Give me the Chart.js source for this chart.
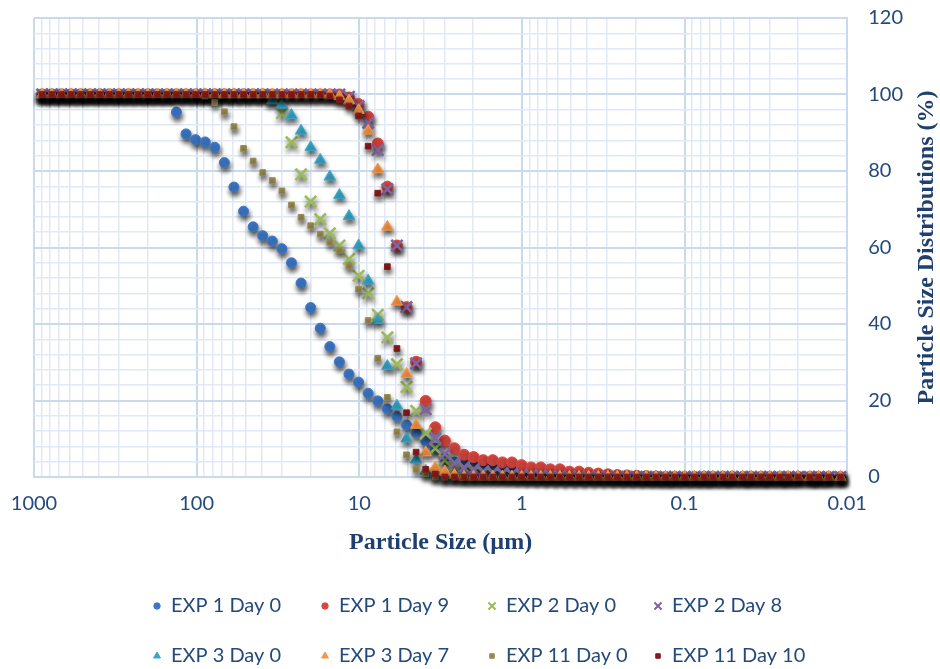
<!DOCTYPE html>
<html>
<head>
<meta charset="utf-8">
<title>Particle Size Distributions</title>
<script src="https://cdn.jsdelivr.net/npm/chart.js@4.4.1/dist/chart.umd.min.js"></script>
<style>
  html, body { margin: 0; padding: 0; background: #fff; overflow: hidden; }
  canvas { display: block; }
</style>
</head>
<body>
<canvas id="psd" width="940" height="669"></canvas>
<script>
// size classes (µm), largest first
const sizes = [
  890.12, 777.14, 678.50, 592.39, 517.20, 451.56, 394.25, 344.21, 300.52, 262.37,
  229.07, 200.00, 174.61, 152.45, 133.10, 116.21, 101.46, 88.583, 77.339, 67.523,
  58.953, 51.471, 44.938, 39.234, 34.255, 29.907, 26.111, 22.797, 19.904, 17.377,
  15.172, 13.246, 11.565, 10.097, 8.816, 7.697, 6.720, 5.867, 5.122, 4.472,
  3.905, 3.409, 2.976, 2.599, 2.269, 1.981, 1.729, 1.510, 1.318, 1.151,
  1.005, 0.877, 0.766, 0.669, 0.584, 0.510, 0.445, 0.389, 0.339, 0.296,
  0.259, 0.226, 0.197, 0.172, 0.150, 0.131, 0.115, 0.100, 0.087, 0.076,
  0.067, 0.058, 0.051, 0.044, 0.039, 0.034, 0.030, 0.026, 0.023, 0.020,
  0.017, 0.015, 0.013, 0.011
];

// cumulative % undersize, one value per size class
const exp1Day0 = [
  100, 100, 100, 100, 100, 100, 100, 100, 100, 100,
  100, 100, 100, 100, 95.4, 89.7, 88.2, 87.6, 86.2, 82.2,
  75.8, 69.5, 65.4, 63.1, 61.7, 59.7, 56.0, 50.7, 44.3, 38.9,
  34.1, 30.1, 26.9, 24.8, 21.9, 19.9, 17.8, 15.8, 13.6, 11.6,
  9.4, 7.5, 4.9, 3.9, 3.3, 3.0, 2.7, 2.5, 2.3, 2.1,
  2.0, 1.8, 1.7, 1.5, 1.4, 1.2, 1.0, 0.8, 0.6, 0.5,
  0.4, 0.3, 0.2, 0.1, 0, 0, 0, 0, 0, 0,
  0, 0, 0, 0, 0, 0, 0, 0, 0, 0,
  0, 0, 0, 0
];
const exp1Day9 = [
  100, 100, 100, 100, 100, 100, 100, 100, 100, 100,
  100, 100, 100, 100, 100, 100, 100, 100, 100, 100,
  100, 100, 100, 100, 100, 100, 100, 100, 100, 100,
  100, 100, 99.2, 97.5, 94.2, 87.2, 75.9, 60.5, 44.4, 30.1,
  19.9, 13.0, 9.5, 7.5, 5.8, 5.2, 4.4, 4.4, 3.8, 3.8,
  3.1, 2.5, 2.5, 2.0, 2.0, 1.4, 1.4, 1.1, 0.9, 0.7,
  0.5, 0.4, 0.3, 0.2, 0.1, 0, 0, 0, 0, 0,
  0, 0, 0, 0, 0, 0, 0, 0, 0, 0,
  0, 0, 0, 0
];
const exp2Day0 = [
  100, 100, 100, 100, 100, 100, 100, 100, 100, 100,
  100, 100, 100, 100, 100, 100, 100, 100, 100, 100,
  100, 100, 100, 100, 99.0, 95.1, 87.5, 79.1, 72.0, 67.4,
  63.7, 60.5, 57.0, 52.6, 48.0, 42.4, 36.5, 29.5, 23.5, 17.3,
  11.4, 7.5, 4.4, 2.8, 2.0, 1.5, 1.2, 1.0, 0.8, 0.6,
  0.4, 0.3, 0.2, 0.1, 0, 0, 0, 0, 0, 0,
  0, 0, 0, 0, 0, 0, 0, 0, 0, 0,
  0, 0, 0, 0, 0, 0, 0, 0, 0, 0,
  0, 0, 0, 0
];
const exp2Day8 = [
  100, 100, 100, 100, 100, 100, 100, 100, 100, 100,
  100, 100, 100, 100, 100, 100, 100, 100, 100, 100,
  100, 100, 100, 100, 100, 100, 100, 100, 100, 100,
  100, 100, 99.4, 97.0, 92.6, 85.5, 75.2, 60.5, 44.4, 29.7,
  17.7, 10.1, 6.0, 3.7, 2.5, 2.0, 1.5, 1.2, 1.0, 0.8,
  0.6, 0.4, 0.3, 0.2, 0.1, 0, 0, 0, 0, 0,
  0, 0, 0, 0, 0, 0, 0, 0, 0, 0,
  0, 0, 0, 0, 0, 0, 0, 0, 0, 0,
  0, 0, 0, 0
];
const exp3Day0 = [
  100, 100, 100, 100, 100, 100, 100, 100, 100, 100,
  100, 100, 100, 100, 100, 100, 100, 100, 100, 100,
  100, 100, 100, 100, 98.4, 97.3, 94.6, 90.5, 86.2, 82.9,
  78.5, 73.7, 68.2, 60.5, 51.3, 41.0, 29.0, 18.6, 10.0, 4.5,
  1.6, 0.5, 0, 0, 0, 0, 0, 0, 0, 0,
  0, 0, 0, 0, 0, 0, 0, 0, 0, 0,
  0, 0, 0, 0, 0, 0, 0, 0, 0, 0,
  0, 0, 0, 0, 0, 0, 0, 0, 0, 0,
  0, 0, 0, 0
];
const exp3Day7 = [
  100, 100, 100, 100, 100, 100, 100, 100, 100, 100,
  100, 100, 100, 100, 100, 100, 100, 100, 100, 100,
  100, 100, 100, 100, 100, 100, 100, 100, 100, 100,
  100, 99.5, 98.4, 95.9, 90.5, 80.4, 65.4, 45.8, 26.9, 13.6,
  6.4, 2.5, 1.4, 0.5, 0, 0, 0, 0, 0, 0,
  0, 0, 0, 0, 0, 0, 0, 0, 0, 0,
  0, 0, 0, 0, 0, 0, 0, 0, 0, 0,
  0, 0, 0, 0, 0, 0, 0, 0, 0, 0,
  0, 0, 0, 0
];
const exp11Day0 = [
  100, 100, 100, 100, 100, 100, 100, 100, 100, 100,
  100, 100, 100, 100, 100, 100, 100, 99.6, 97.9, 95.5,
  91.6, 85.9, 82.6, 79.6, 77.5, 74.8, 71.1, 67.9, 65.7, 63.5,
  61.4, 59.3, 55.2, 49.1, 40.9, 31.0, 20.8, 11.8, 5.8, 2.0,
  0.8, 0, 0, 0, 0, 0, 0, 0, 0, 0,
  0, 0, 0, 0, 0, 0, 0, 0, 0, 0,
  0, 0, 0, 0, 0, 0, 0, 0, 0, 0,
  0, 0, 0, 0, 0, 0, 0, 0, 0, 0,
  0, 0, 0, 0
];
const exp11Day10 = [
  100, 100, 100, 100, 100, 100, 100, 100, 100, 100,
  100, 100, 100, 100, 100, 100, 100, 100, 100, 100,
  100, 100, 100, 100, 100, 100, 100, 100, 100, 100,
  99.6, 98.6, 97.0, 94.4, 86.5, 74.2, 55.0, 33.6, 16.8, 6.5,
  2.0, 0.8, 0, 0, 0, 0, 0, 0, 0, 0,
  0, 0, 0, 0, 0, 0, 0, 0, 0, 0,
  0, 0, 0, 0, 0, 0, 0, 0, 0, 0,
  0, 0, 0, 0, 0, 0, 0, 0, 0, 0,
  0, 0, 0, 0
];

const seriesNames = [
  'EXP 1 Day 0', 'EXP 1 Day 9', 'EXP 2 Day 0', 'EXP 2 Day 8',
  'EXP 3 Day 0', 'EXP 3 Day 7', 'EXP 11 Day 0', 'EXP 11 Day 10'
];
const seriesValues = [exp1Day0, exp1Day9, exp2Day0, exp2Day8, exp3Day0, exp3Day7, exp11Day0, exp11Day10];

// x axis decades and their labels
const sizeTicks = [1000, 100, 10, 1, 0.1, 0.01];
const sizeTickLabels = ['1000', '100', '10', '1', '0.1', '0.01'];
const pctTicks = [0, 20, 40, 60, 80, 100, 120];

const xTitle = 'Particle Size (µm)';
const yTitle = 'Particle Size Distributions (%)';

// marker look per series (legend swatches use the smaller size)
const markers = [
  { style: 'circle',   color: '#3d78c6', radius: 5,   width: 1,   key: 3.2 },
  { style: 'circle',   color: '#d9463e', radius: 5.5, width: 1,   key: 3.2 },
  { style: 'crossRot', color: '#9bbb59', radius: 8,   width: 2.6, key: 5 },
  { style: 'crossRot', color: '#8064a2', radius: 8,   width: 2.6, key: 5 },
  { style: 'triangle', color: '#38a8c9', radius: 6.5, width: 1,   key: 4 },
  { style: 'triangle', color: '#f79646', radius: 6.5, width: 1,   key: 4 },
  { style: 'rect',     color: '#988a50', radius: 4,   width: 1,   key: 3.2 },
  { style: 'rect',     color: '#861b1b', radius: 4,   width: 1,   key: 3.2 }
];

const navy = '#244a7c';
const titleNavy = '#1f3f6e';
const gridMajor = '#c9daef';
const gridMinor = '#e0e9f5';

// legend grid: four columns, two rows
const legendCols = [157, 325, 492, 658];
const legendRowY = [606, 656];

// vertical grid: 1..9 in every decade
const gridValues = [];
sizeTicks.slice().reverse().forEach(d => {
  if (d === 1000) { gridValues.push(d); return; }
  for (let m = 1; m <= 9; m++) gridValues.push(Number((m * d).toPrecision(3)));
});
const isDecade = v => sizeTicks.some(d => Math.abs(v - d) / d < 1e-6);

const datasets = seriesNames.map((name, i) => ({
  label: name,
  data: sizes.map((s, k) => ({ x: s, y: seriesValues[i][k] })),
  pointStyle: markers[i].style,
  pointRadius: markers[i].radius,
  pointHoverRadius: markers[i].radius,
  pointBorderWidth: markers[i].width,
  backgroundColor: markers[i].color,
  borderColor: markers[i].color,
  showLine: false,
  clip: false,
  order: seriesNames.length - i   // later series drawn on top
}));

// dark drop shadow under the markers
const markerShadow = {
  id: 'markerShadow',
  beforeDatasetsDraw(chart) {
    const c = chart.ctx;
    c.save();
    c.shadowColor = 'rgba(0,0,0,0.7)';
    c.shadowBlur = 5;
    c.shadowOffsetX = 1;
    c.shadowOffsetY = 4;
  },
  afterDatasetsDraw(chart) {
    chart.ctx.restore();
  }
};

// legend laid out in fixed columns under the axis title
const gridLegend = {
  id: 'gridLegend',
  afterDraw(chart) {
    const ctx = chart.ctx;
    chart.data.datasets.forEach((ds, i) => {
      const x = legendCols[i % 4];
      const y = legendRowY[Math.floor(i / 4)];
      const m = markers[i];
      ctx.save();
      ctx.fillStyle = m.color;
      ctx.strokeStyle = m.color;
      ctx.lineWidth = m.style === 'crossRot' ? 2 : 1;
      Chart.helpers.drawPoint(ctx, { pointStyle: m.style, radius: m.key, borderWidth: ctx.lineWidth }, x, y);
      ctx.fillStyle = navy;
      ctx.font = '20px Lato';
      ctx.textAlign = 'left';
      ctx.textBaseline = 'middle';
      ctx.fillText(ds.label, x + 14, y);
      ctx.restore();
    });
  }
};

// right-hand axis title, reading bottom to top
const rightTitle = {
  id: 'rightTitle',
  afterDraw(chart) {
    const { ctx, chartArea } = chart;
    ctx.save();
    ctx.translate(927, (chartArea.top + chartArea.bottom) / 2);
    ctx.rotate(-Math.PI / 2);
    ctx.font = 'bold 24px "Liberation Serif"';
    ctx.fillStyle = titleNavy;
    ctx.textAlign = 'center';
    ctx.textBaseline = 'middle';
    ctx.fillText(yTitle, 0, 0);
    ctx.restore();
  }
};

new Chart(document.getElementById('psd'), {
  type: 'scatter',
  data: { datasets },
  plugins: [markerShadow, gridLegend, rightTitle],
  options: {
    responsive: false,
    animation: false,
    devicePixelRatio: 1,
    layout: { padding: { left: 34, right: 37, top: 18, bottom: 104 } },
    plugins: {
      tooltip: { enabled: false },
      legend: { display: false }
    },
    scales: {
      x: {
        type: 'logarithmic',
        reverse: true,
        min: 0.01,
        max: 1000,
        afterBuildTicks(scale) {
          scale.ticks = gridValues.map(v => ({ value: v }));
        },
        ticks: {
          autoSkip: false,
          maxRotation: 0,
          padding: 15,
          color: navy,
          font: { family: 'Lato', size: 20 },
          callback(v) {
            const k = sizeTicks.findIndex(d => Math.abs(v - d) / d < 1e-6);
            return k >= 0 ? sizeTickLabels[k] : '';
          }
        },
        grid: {
          drawTicks: false,
          color: ctx => isDecade(ctx.tick.value) ? gridMajor : gridMinor,
          lineWidth: ctx => isDecade(ctx.tick.value) ? 2 : 1.5
        },
        border: { color: gridMajor, width: 2 },
        title: {
          display: true,
          text: xTitle,
          color: titleNavy,
          font: { family: 'Liberation Serif', size: 24, weight: 'bold', lineHeight: 1 },
          padding: { top: 0, bottom: 10 }
        }
      },
      y: {
        position: 'right',
        min: 0,
        max: 120,
        ticks: {
          stepSize: 4,
          autoSkip: false,
          padding: 0,
          color: navy,
          font: { family: 'Lato', size: 20 },
          callback: v => pctTicks.includes(v) ? String(v) : ''
        },
        grid: {
          drawTicks: true,
          tickLength: 21,
          tickColor: 'rgba(0,0,0,0)',
          color: ctx => ctx.tick.value % 20 === 0 ? gridMajor : gridMinor,
          lineWidth: ctx => ctx.tick.value % 20 === 0 ? 2 : 1.5
        },
        border: { color: gridMajor, width: 2 }
      }
    }
  }
});
</script>
</body>
</html>
